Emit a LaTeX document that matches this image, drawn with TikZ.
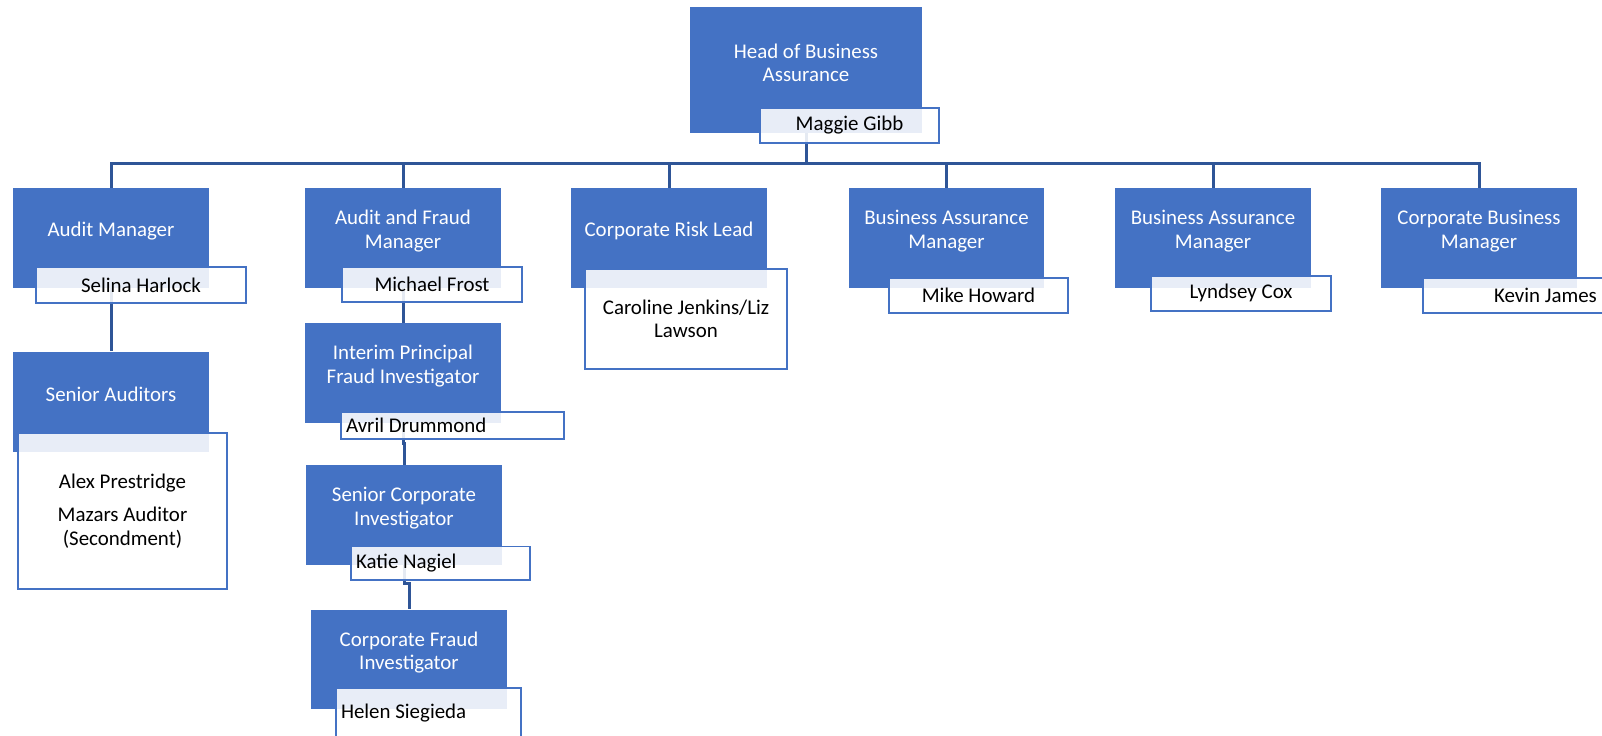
\documentclass[tikz,border=0pt]{standalone}
\usepackage{fontspec}
\setmainfont{Carlito}
\usepackage{tikz}

\definecolor{boxblue}{HTML}{4472C4}
\definecolor{linkblue}{HTML}{2F5597}
\newcommand{\orgfont}{\fontsize{11.9pt}{13.3pt}\selectfont}
\newcommand{\roleend}{\endgraf\vspace*{0.28cm}}

\begin{document}
\begin{tikzpicture}[x=0.02cm, y=-0.02cm,
  rolebox/.style={fill=boxblue, text=white, font=\orgfont, align=flush center,
    minimum width=3.92cm, minimum height=2.0cm, text width=3.72cm,
    inner xsep=0.1cm, inner ysep=0pt,
    execute at end node=\roleend},
  namebox/.style={draw=boxblue, line width=0.03cm, fill=white,
    fill opacity=0.88, text opacity=1, text=black, font=\orgfont,
    align=center, inner xsep=0.1cm, inner ysep=0pt},
  namel/.style={namebox, align=flush left, text width=#1},
  conn/.style={draw=linkblue, line width=0.06cm},
]
\useasboundingbox (0,0) rectangle (1602,736);
\clip (0,0) rectangle (1602,736);

% ── Top: head of the unit ──
\node[rolebox, minimum width=4.64cm, minimum height=2.52cm, text width=4.44cm]
  (head) at (806,70) {Head of Business\\Assurance};

% ── Row 1: managers ──
\node[rolebox] (am)   at (111,238)    {Audit Manager};
\node[rolebox] (afm)  at (403,238)    {Audit and Fraud\\Manager};
\node[rolebox] (crl)  at (669,238)    {Corporate Risk Lead};
\node[rolebox] (bam1) at (946.5,238)  {Business Assurance\\Manager};
\node[rolebox] (bam2) at (1213,238)   {Business Assurance\\Manager};
\node[rolebox] (cbm)  at (1479,238)   {Corporate Business\\Manager};

% ── Lower rows ──
\node[rolebox] (sa)   at (111,401.7)  {Senior Auditors};
\node[rolebox] (ipfi) at (403,373)    {Interim Principal\\Fraud Investigator};
\node[rolebox] (sci)  at (404,515)    {Senior Corporate\\Investigator};
\node[rolebox] (cfi)  at (409,659.5)  {Corporate Fraud\\Investigator};

% Connectors
\foreach \n in {am,afm,crl,bam1,bam2,cbm}
  \draw[conn] (head.south) -- ++(0,30) -| (\n.north);
\draw[conn] (am.south) -- (sa.north);
\draw[conn] (afm.south) -- (ipfi.north);
\draw[conn] (ipfi.south) -- ++(0,20) -| (sci.north);
\draw[conn] (sci.south) -- ++(0,18) -| (cfi.north);

% ── Name cards ──
\node[namebox, minimum width=3.58cm, minimum height=0.7cm]
  (mg) at (849.5,125.5) {Maggie Gibb};
\node[namebox, minimum width=4.2cm, minimum height=0.72cm]
  (sh) at (141,285) {Selina Harlock};
\node[namebox, minimum width=3.6cm, minimum height=0.7cm]
  (mf) at (432,284.5) {Michael Frost};
\node[namebox, minimum width=4.04cm, minimum height=2.0cm]
  (cj) at (686,319) {Caroline Jenkins/Liz\\Lawson};
\node[namebox, minimum width=3.58cm, minimum height=0.7cm]
  (mh) at (978.5,295.3) {Mike Howard};
\node[namebox, minimum width=3.6cm, minimum height=0.7cm]
  (lc) at (1241,293.3) {Lyndsey Cox};
\node[namebox, minimum width=4.9cm, minimum height=0.7cm]
  (kj) at (1545.5,295.5) {Kevin James};
\node[namebox, minimum width=4.18cm, minimum height=3.12cm]
  (ap) at (122.5,511) {Alex Prestridge\\[0.2cm]Mazars Auditor\\(Secondment)};
\node[namel=4.26cm, minimum height=0.55cm]
  (ad) at (452.5,425.5) {Avril Drummond};
\node[namel=3.38cm, minimum height=0.67cm]
  (kn) at (440.5,563.3) {Katie Nagiel};
\node[namel=3.5cm, minimum height=1.0cm]
  (hs) at (428.5,713) {Helen Siegieda};
\end{tikzpicture}
\end{document}
